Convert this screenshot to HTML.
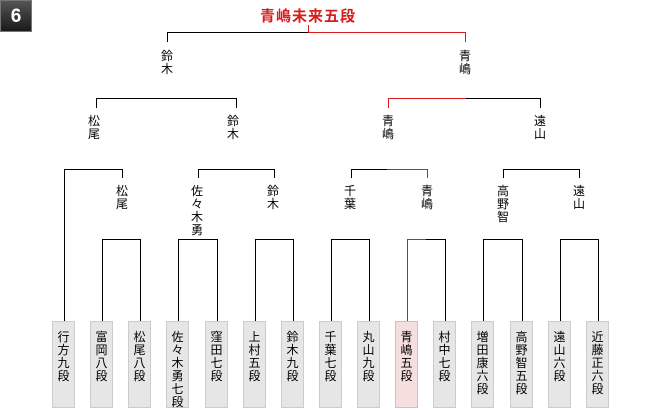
<!DOCTYPE html>
<html><head><meta charset="utf-8"><style>
body{margin:0;background:#fff;width:660px;height:410px;position:relative;overflow:hidden;font-family:"Liberation Sans","Noto Sans CJK JP",sans-serif}
.b{position:absolute;top:321px;width:23px;height:87px;background:#e6e6e6;border:1px solid #ccc;font-size:12px;line-height:13px;text-align:center;padding-top:9px;box-sizing:border-box;color:#000}
.r{background:#f6dede;border-color:#e8b4b4}
.l{position:absolute;width:20px;margin-left:-10px;font-size:12px;line-height:13px;text-align:center;color:#000}
svg{position:absolute;left:0;top:0}
</style></head><body>
<div style="position:absolute;left:0;top:0;width:32px;height:32px;background:linear-gradient(#555,#1a1a1a);border:1px solid #777;box-sizing:border-box;color:#fff;font-weight:bold;font-size:19px;line-height:31px;text-align:center">6</div>
<div style="position:absolute;left:208px;width:200px;top:5px;text-align:center;color:#d81c1c;font-size:15px;font-weight:bold;letter-spacing:1px">青嶋未来五段</div>
<svg width="660" height="410">
<g stroke="#000" fill="none" stroke-width="1">
<path d="M167.5 42V32.5H308"/>
<path d="M96.5 108V98.5H236.5V108"/>
<path d="M466 98.5H540.5V108"/>
<path d="M64.5 321V169.5H122.5V178"/>
<path d="M198.5 178V169.5H274.5V178"/>
<path d="M351.5 178V169.5H387"/>
<path d="M503.5 178V169.5H579.5V178"/>
<path d="M102.5 321V239.5H140.5V321"/>
<path d="M178.5 321V239.5H217.5V321"/>
<path d="M255.5 321V239.5H293.5V321"/>
<path d="M331.5 321V239.5H369.5V321"/>
<path d="M426 239.5H445.5V321"/>
<path d="M483.5 321V239.5H522.5V321"/>
<path d="M560.5 321V239.5H598.5V321"/>
</g>
<g stroke="#d81c1c" fill="none" stroke-width="1">
<path d="M308.5 25V32.5H465.5V42"/>
<path d="M388.5 108V98.5H466"/>
<path d="M387 169.5H427.5V178"/>
<path d="M407.5 321V239.5H426"/>
</g>
</svg>
<div class="l" style="left:167px;top:50px">鈴<br>木</div>
<div class="l" style="left:465px;top:50px">青<br>嶋</div>
<div class="l" style="left:94px;top:115px">松<br>尾</div>
<div class="l" style="left:233px;top:115px">鈴<br>木</div>
<div class="l" style="left:388px;top:115px">青<br>嶋</div>
<div class="l" style="left:540px;top:115px">遠<br>山</div>
<div class="l" style="left:122px;top:185px">松<br>尾</div>
<div class="l" style="left:197px;top:185px">佐<br>々<br>木<br>勇</div>
<div class="l" style="left:273px;top:185px">鈴<br>木</div>
<div class="l" style="left:350px;top:185px">千<br>葉</div>
<div class="l" style="left:427px;top:185px">青<br>嶋</div>
<div class="l" style="left:503px;top:185px">高<br>野<br>智</div>
<div class="l" style="left:579px;top:185px">遠<br>山</div>
<div class="b" style="left:52px">行<br>方<br>九<br>段</div>
<div class="b" style="left:90px">富<br>岡<br>八<br>段</div>
<div class="b" style="left:128px">松<br>尾<br>八<br>段</div>
<div class="b" style="left:166px">佐<br>々<br>木<br>勇<br>七<br>段</div>
<div class="b" style="left:205px">窪<br>田<br>七<br>段</div>
<div class="b" style="left:243px">上<br>村<br>五<br>段</div>
<div class="b" style="left:281px">鈴<br>木<br>九<br>段</div>
<div class="b" style="left:319px">千<br>葉<br>七<br>段</div>
<div class="b" style="left:357px">丸<br>山<br>九<br>段</div>
<div class="b r" style="left:395px">青<br>嶋<br>五<br>段</div>
<div class="b" style="left:433px">村<br>中<br>七<br>段</div>
<div class="b" style="left:471px">増<br>田<br>康<br>六<br>段</div>
<div class="b" style="left:510px">高<br>野<br>智<br>五<br>段</div>
<div class="b" style="left:548px">遠<br>山<br>六<br>段</div>
<div class="b" style="left:586px">近<br>藤<br>正<br>六<br>段</div>
</body></html>
